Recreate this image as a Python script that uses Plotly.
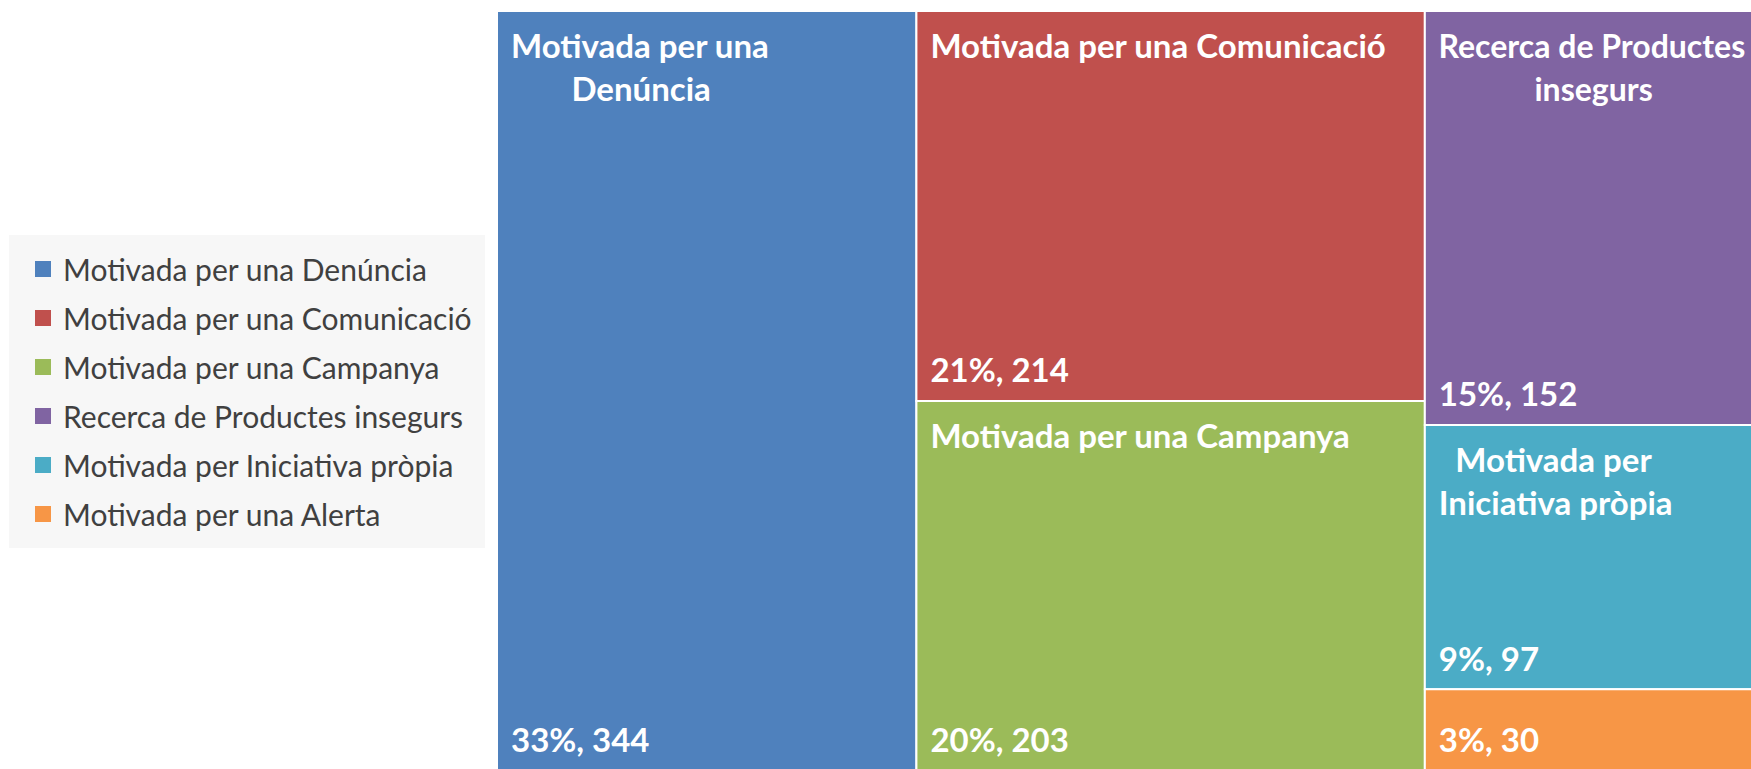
import plotly.graph_objects as go

categories = ["Motivada per una Denúncia", "Motivada per una Comunicació",
              "Motivada per una Campanya", "Recerca de Productes insegurs",
              "Motivada per Iniciativa pròpia", "Motivada per una Alerta"]
values = [344, 214, 203, 152, 97, 30]
# wrapped box titles as shown in the chart
box_lines = [["Motivada per una", "Denúncia"],
             ["Motivada per una Comunicació"],
             ["Motivada per una Campanya"],
             ["Recerca de Productes", "insegurs"],
             ["Motivada per", "Iniciativa pròpia"],
             []]
# extra indent (in en-spaces) per line to centre the wrapped lines
line_indent = [[0, 3.5], [0], [0], [0, 6], [1, 0], []]
title_size = [33, 33, 33, 32, 33, 33]
column = [1, 2, 2, 3, 3, 3]
colors = ["#4F81BD", "#C0504D", "#9BBB59", "#8064A2", "#4BACC6", "#F79646"]

PADL = "\u2004"          # small left inset
EN = "\u2002"
HALF = "\u2004"
TINY = '<span style="font-size:1px">\u00a0</span>'
FS = 33


def title_text(lines, indents, size):
    if not lines:
        return ""
    out = [TINY]
    for ln, ind in zip(lines, indents):
        sp = EN * int(ind) + (HALF if ind % 1 else "")
        out.append('<span style="font-size:%dpx">' % size + PADL + sp + ln + "</span>")
    return "<br>".join(out)


value_tpl = ('<span style="font-size:%dpx">' % FS + PADL +
             "%{percentRoot:.0%}, %{value}</span><br>" + TINY)

groups = sorted(set(column))
ids = ["root"] + ["col%d" % g for g in groups] + categories
parents = [""] + ["root"] * len(groups) + ["col%d" % c for c in column]
vals = [0] * (1 + len(groups)) + values
n_par = 1 + len(groups)

FONT = "Lato"
W, H = 1765, 771          # figure slightly larger than the window; it is clipped like the original
TOP = 11
PH = H - TOP
X0 = 497 / W
common = dict(ids=ids, labels=ids, parents=parents, values=vals,
              branchvalues="remainder", sort=False,
              domain=dict(x=[X0, 1.0], y=[0.0, 1.0]),
              tiling=dict(packing="slice-dice", pad=0),
              pathbar=dict(visible=False), hoverinfo="none")

fig = go.Figure()
fig.add_trace(go.Treemap(
    **common,
    marker=dict(colors=["white"] * n_par + colors,
                line=dict(color="white", width=2),
                pad=dict(t=0, l=0, r=0, b=0)),
    texttemplate=[""] * n_par + [title_text(l, i, s) for l, i, s
                                 in zip(box_lines, line_indent, title_size)],
    textposition="top left",
    textfont=dict(family=FONT, size=FS, color="white", weight="bold"),
))
fig.add_trace(go.Treemap(
    **common,
    marker=dict(colors=["rgba(0,0,0,0)"] * (n_par + len(values)),
                line=dict(color="rgba(0,0,0,0)", width=0),
                pad=dict(t=0, l=0, r=0, b=0)),
    texttemplate=[""] * n_par + [value_tpl] * len(values),
    textposition="bottom left",
    textfont=dict(family=FONT, size=12, color="white", weight="bold"),
))

for name, col in zip(categories, colors):
    fig.add_trace(go.Scatter(x=[None], y=[None], mode="markers", name=name,
                             legendgroup=name,
                             marker=dict(symbol="square", size=17, color=col),
                             hoverinfo="skip"))

fig.update_layout(
    width=W, height=H,
    margin=dict(l=0, r=0, t=TOP, b=0),
    paper_bgcolor="white", plot_bgcolor="rgba(0,0,0,0)",
    xaxis=dict(visible=False), yaxis=dict(visible=False),
    legend=dict(x=9 / W, y=1 - (235 - TOP) / PH, xanchor="left", yanchor="top",
                bgcolor="#f7f7f7", bordercolor="#f7f7f7", borderwidth=8,
                font=dict(family=FONT, size=30, color="#404040"),
                tracegroupgap=7, indentation=6),
    showlegend=True,
)
fig.write_html(
    "out.html",
    config=dict(displayModeBar=False),
    post_script=("document.documentElement.style.overflow='hidden';"
                 "document.body.style.margin='0';"
                 "document.body.style.overflow='hidden';"
                 "var gd=document.getElementById('{plot_id}');"
                 "gd.style.width='1751px';gd.style.height='769px';gd.style.overflow='hidden';"),
)
